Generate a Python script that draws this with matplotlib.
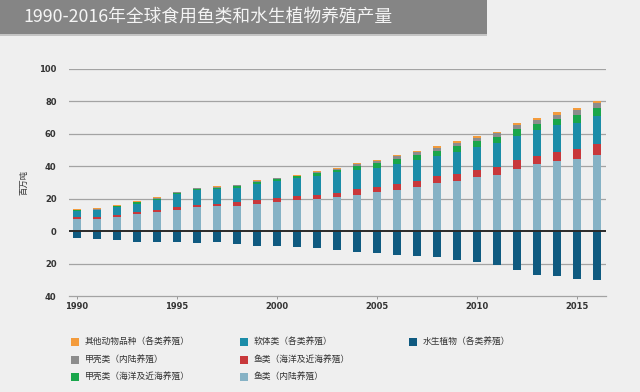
import matplotlib.pyplot as plt
from matplotlib.patches import Rectangle
import numpy as np

plt.rcParams['font.family'] = ['Noto Sans CJK SC', 'DejaVu Sans']

years = list(range(1990, 2017))

# million tonnes (stacked from bottom to top)
fish_inland = [7.6, 7.6, 8.8, 10.3, 11.7, 13.3, 14.8, 15.4, 15.8, 17.0,
               17.8, 19.1, 20.1, 20.9, 22.5, 24.4, 25.6, 27.3, 29.8, 31.0,
               33.5, 34.9, 38.4, 41.3, 43.1, 44.4, 47.2]
fish_marine = [1.0, 1.2, 1.3, 1.2, 1.2, 1.5, 1.4, 1.6, 2.0, 2.5,
               2.7, 2.4, 2.4, 2.7, 3.5, 2.9, 3.3, 3.5, 4.5, 4.5,
               4.5, 4.7, 5.7, 5.3, 5.8, 6.3, 6.6]
molluscs = [3.7, 4.1, 4.7, 5.5, 6.6, 8.2, 9.1, 9.1, 8.8, 9.8,
            10.6, 11.3, 11.7, 12.7, 11.9, 11.6, 12.5, 13.3, 12.3, 13.4,
            14.0, 14.8, 14.8, 15.6, 16.4, 16.0, 17.0]
crust_marine = [0.6, 0.4, 0.6, 0.7, 0.6, 0.6, 0.8, 0.7, 1.2, 1.1,
                1.1, 1.0, 1.7, 1.6, 2.5, 3.1, 3.1, 2.8, 3.1, 3.5,
                3.4, 3.5, 4.3, 3.9, 3.9, 5.2, 5.2]
crust_inland = [0.4, 0.4, 0.4, 0.4, 0.4, 0.4, 0.4, 0.4, 0.4, 0.5,
                0.4, 0.5, 0.6, 0.6, 0.8, 1.1, 1.6, 1.8, 1.6, 2.0,
                2.1, 2.7, 2.5, 2.7, 2.7, 2.6, 3.0]
other_animals = [0.5, 0.5, 0.4, 0.4, 0.4, 0.4, 0.4, 0.5, 0.5, 0.5,
                 0.4, 0.5, 0.6, 0.4, 0.6, 0.8, 1.0, 1.0, 1.3, 1.0,
                 1.4, 0.8, 0.8, 1.0, 1.4, 1.3, 1.5]
plants = [4.1, 4.7, 5.7, 7.0, 7.0, 7.0, 7.6, 7.0, 8.2, 9.2,
          9.2, 9.8, 10.5, 11.7, 12.9, 13.7, 14.8, 15.4, 16.0, 18.1,
          19.1, 20.9, 24.0, 26.9, 27.7, 29.4, 30.4]

names = ['鱼类（内陆养殖）', '鱼类（海洋及近海养殖）', '软体类（各类养殖）',
         '甲壳类（海洋及近海养殖）', '甲壳类（内陆养殖）', '其他动物品种（各类养殖）']
colors = ['#86b2c5', '#c8383b', '#1b8ca8', '#19a64b', '#8c8c8c', '#f39b3c']
plantName = '水生植物（各类养殖）'
plantColor = '#0f5a80'

bg = '#efefef'
tickFont = ['Liberation Sans Narrow', 'DejaVu Sans']

fig = plt.figure(figsize=(6.4, 3.92), dpi=100, facecolor=bg)
ax = fig.add_axes([69/640, 1 - 296/392, 537/640, 227/392], facecolor=bg)

bottom = np.zeros(len(years))
for vals, c in zip([fish_inland, fish_marine, molluscs, crust_marine, crust_inland, other_animals], colors):
    ax.bar(years, vals, bottom=bottom, width=0.4, color=c, zorder=2, linewidth=0)
    bottom += np.array(vals)
ax.bar(years, -np.array(plants), width=0.4, color=plantColor, zorder=2, linewidth=0)

ax.set_xlim(1989.6, 2016.45)
ax.set_ylim(-40, 100)
for g in [-20, 20, 40, 60, 80, 100]:
    ax.axhline(g, color='#a3a3a3', lw=0.9, zorder=1)
ax.axhline(0, color='#2a2a2a', lw=1.4, zorder=3)

for s in ['top', 'right', 'left']:
    ax.spines[s].set_visible(False)
ax.spines['bottom'].set_color('#a3a3a3')
ax.spines['bottom'].set_linewidth(0.9)

ticks = [-40, -20, 0, 20, 40, 60, 80, 100]
ax.set_yticks(ticks)
ax.set_yticklabels([str(abs(t)) for t in ticks])
ax.set_xticks([1990, 1995, 2000, 2005, 2010, 2015])
ax.tick_params(axis='y', length=0, pad=9, labelsize=6, labelcolor='#333333')
ax.tick_params(axis='x', length=2.5, width=0.6, color='#888888', pad=2,
               labelsize=6, labelcolor='#333333')
for lab in ax.get_xticklabels() + ax.get_yticklabels():
    lab.set_family(tickFont)
    lab.set_fontweight('bold')
ax.set_ylabel('百万吨', fontsize=6, color='#333333', labelpad=8)

# title banner
fig.patches.append(Rectangle((0, 1 - 34/392), 487/640, 34/392, transform=fig.transFigure,
                             facecolor='#858585', edgecolor='none', zorder=0))
fig.patches.append(Rectangle((0, 1 - 36/392), 487/640, 2/392, transform=fig.transFigure,
                             facecolor='#c4c4c4', edgecolor='none', zorder=0))
fig.text(23/640, 1 - 17/392, '1990-2016年全球食用鱼类和水生植物养殖产量',
         fontsize=12.8, color='#f4f4f4', va='center', ha='left')

# legend, three columns
legendItems = [(names[5], colors[5]), (names[4], colors[4]), (names[3], colors[3]),
               (names[2], colors[2]), (names[1], colors[1]), (names[0], colors[0]),
               (plantName, plantColor)]
colX = [71, 240, 409]
rowY = [342, 360, 377]
for i, (label, c) in enumerate(legendItems):
    x = colX[i // 3]
    y = rowY[i % 3]
    fig.patches.append(Rectangle((x/640, 1 - (y + 4)/392), 8/640, 8/392,
                                 transform=fig.transFigure, facecolor=c, edgecolor='none'))
    fig.text((x + 14)/640, 1 - y/392, label, fontsize=6.3, color='#333333',
             va='center', ha='left')

fig.savefig('out.png', dpi=100, facecolor=bg)
